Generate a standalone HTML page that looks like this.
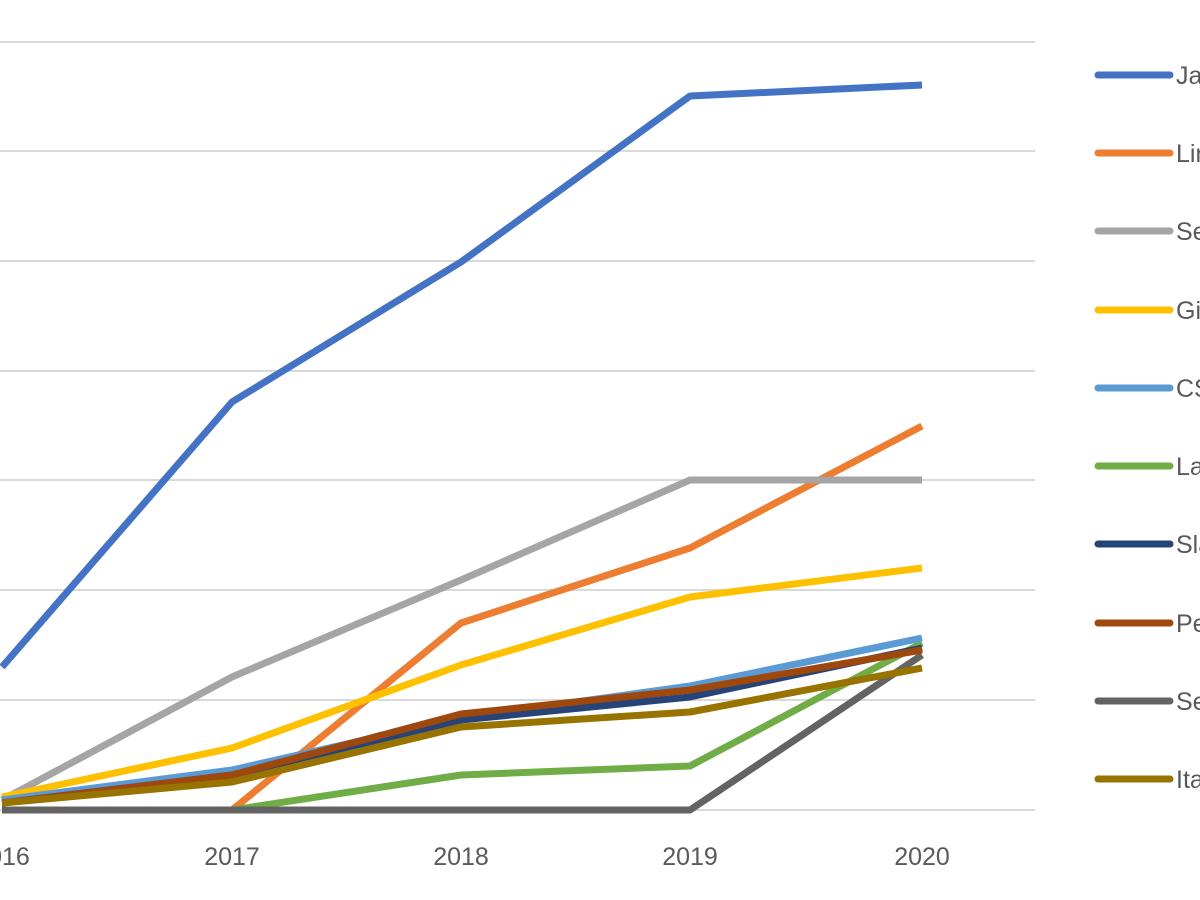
<!DOCTYPE html>
<html><head><meta charset="utf-8"><style>
html,body{margin:0;padding:0;background:#fff;width:1200px;height:900px;overflow:hidden}
svg{display:block}
text{font-family:"Liberation Sans",sans-serif;font-size:25px;fill:#595959}
</style></head><body>
<svg width="1200" height="900" viewBox="0 0 1200 900">
<g stroke="#d9d9d9" stroke-width="2">
<line x1="0" y1="42" x2="1035" y2="42"/><line x1="0" y1="151" x2="1035" y2="151"/>
<line x1="0" y1="261" x2="1035" y2="261"/><line x1="0" y1="371" x2="1035" y2="371"/>
<line x1="0" y1="480" x2="1035" y2="480"/><line x1="0" y1="590" x2="1035" y2="590"/>
<line x1="0" y1="700" x2="1035" y2="700"/><line x1="0" y1="810" x2="1035" y2="810"/>
</g>
<g fill="none" stroke-width="7" stroke-linejoin="round">
<polyline stroke="#ed7d31" points="2,810 232,810 461,623 690,548 922,426"/>
<polyline stroke="#70ad47" points="2,810 232,810 461,775 690,766 922,643"/>
<polyline stroke="#636363" points="2,810 232,810 461,810 690,810 922,655"/>
<polyline stroke="#a5a5a5" points="2,800 232,677 461,580 690,480 922,480"/>
<polyline stroke="#ffc000" points="2,797 232,748 461,665 690,597 922,568"/>
<polyline stroke="#5b9bd5" points="2,800 232,770 461,718 690,686 922,638"/>
<polyline stroke="#264478" points="2,803 232,775 461,720 690,697 922,648"/>
<polyline stroke="#9e480e" points="2,803 232,775 461,714 690,690 922,650"/>
<polyline stroke="#997300" points="2,803 232,782 461,727 690,712 922,668"/>
<polyline stroke="#4472c4" points="2,667 232,402 461,262 690,96 922,85"/>
</g>
<g text-anchor="middle">
<text x="2" y="865">2016</text><text x="232" y="865">2017</text><text x="461" y="865">2018</text>
<text x="690" y="865">2019</text><text x="922" y="865">2020</text>
</g>
<g stroke-width="7" stroke-linecap="round">
<line x1="1098" y1="75" x2="1170" y2="75" stroke="#4472c4"/>
<line x1="1098" y1="153" x2="1170" y2="153" stroke="#ed7d31"/>
<line x1="1098" y1="231" x2="1170" y2="231" stroke="#a5a5a5"/>
<line x1="1098" y1="310" x2="1170" y2="310" stroke="#ffc000"/>
<line x1="1098" y1="388" x2="1170" y2="388" stroke="#5b9bd5"/>
<line x1="1098" y1="466" x2="1170" y2="466" stroke="#70ad47"/>
<line x1="1098" y1="544" x2="1170" y2="544" stroke="#264478"/>
<line x1="1098" y1="623" x2="1170" y2="623" stroke="#9e480e"/>
<line x1="1098" y1="701" x2="1170" y2="701" stroke="#636363"/>
<line x1="1098" y1="779" x2="1170" y2="779" stroke="#997300"/>
</g>
<g>
<text x="1176" y="84">JavaScript</text><text x="1176" y="162">Linux</text>
<text x="1176" y="240">Security</text><text x="1176" y="319">Git</text>
<text x="1176" y="397">CSS</text><text x="1176" y="475">Laravel</text>
<text x="1176" y="553">Slack</text><text x="1176" y="632">Perl</text>
<text x="1176" y="710">Sed</text><text x="1176" y="788">Italian</text>
</g>
</svg>
</body></html>
